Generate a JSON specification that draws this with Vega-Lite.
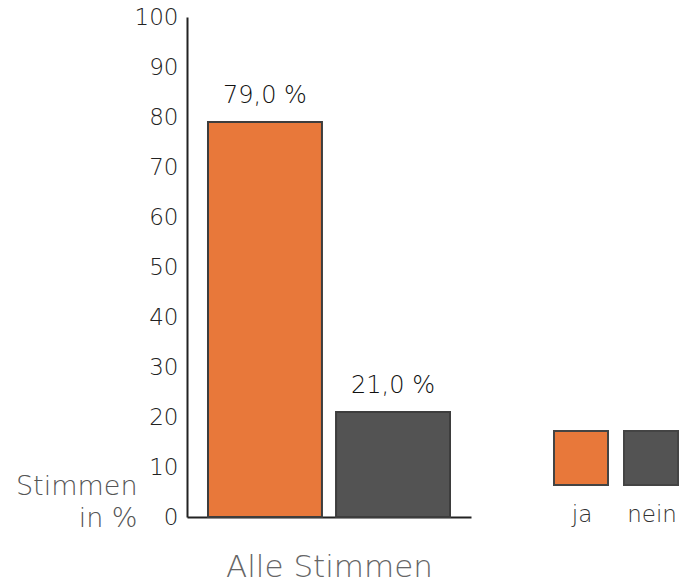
{
  "$schema": "https://vega.github.io/schema/vega-lite/v6.json",
  "width": 499,
  "height": 500,
  "autosize": {"type": "none"},
  "padding": {"left": 187, "top": 17, "right": 0, "bottom": 68},
  "background": "white",
  "config": {"view": {"stroke": null}},
  "data": {"values": [
    {"antwort": "ja", "anteil": 79.0, "label": "79,0 %"},
    {"antwort": "nein", "anteil": 21.0, "label": "21,0 %"}
  ]},
  "encoding": {
    "x": {
      "field": "antwort", "type": "nominal", "sort": ["ja", "nein"],
      "scale": {"range": [0, 284], "paddingInner": 0.11, "paddingOuter": 0.164},
      "axis": {
        "title": "Alle Stimmen", "labels": false, "ticks": false,
        "domainColor": "#222", "domainWidth": 2,
        "titleFont": "DejaVu Sans", "titleFontSize": 31, "titleFontWeight": 300,
        "titleColor": "#666", "titlePadding": 35
      }
    },
    "y": {
      "field": "anteil", "type": "quantitative",
      "scale": {"domain": [0, 100]},
      "axis": {
        "title": ["Stimmen", "in %"], "titleAngle": 0, "titleAlign": "right",
        "titleBaseline": "alphabetic", "titleX": -50, "titleY": 477,
        "titleFont": "DejaVu Sans", "titleFontSize": 27, "titleFontWeight": 300,
        "titleColor": "#555", "titleLineHeight": 32,
        "values": [0, 10, 20, 30, 40, 50, 60, 70, 80, 90, 100],
        "ticks": false, "grid": false, "labelPadding": 9,
        "labelFont": "DejaVu Sans", "labelFontSize": 23, "labelFontWeight": 300, "labelColor": "#222",
        "domainColor": "#222", "domainWidth": 2
      }
    }
  },
  "layer": [
    {
      "mark": {"type": "bar", "stroke": "#3d3d3d", "strokeWidth": 2},
      "encoding": {
        "color": {
          "field": "antwort", "type": "nominal",
          "scale": {"domain": ["ja", "nein"], "range": ["#E8783A", "#535353"]},
          "legend": {
            "orient": "none", "legendX": 366, "legendY": 413,
            "direction": "horizontal", "title": null,
            "symbolType": "square", "symbolSize": 2916,
            "symbolStrokeColor": "#444", "symbolStrokeWidth": 2, "symbolOpacity": 1,
            "labelAlign": "center", "labelOffset": -27, "labelBaseline": "alphabetic",
            "labelFont": "DejaVu Sans", "labelFontSize": 23, "labelFontWeight": 300, "labelColor": "#333",
            "columnPadding": 8,
            "encoding": {"labels": {"dy": {"value": 64}}}
          }
        }
      }
    },
    {
      "mark": {"type": "text", "dy": -19, "baseline": "alphabetic", "font": "DejaVu Sans", "fontSize": 24, "fontWeight": 300, "color": "#111"},
      "encoding": {"text": {"field": "label"}}
    }
  ]
}
